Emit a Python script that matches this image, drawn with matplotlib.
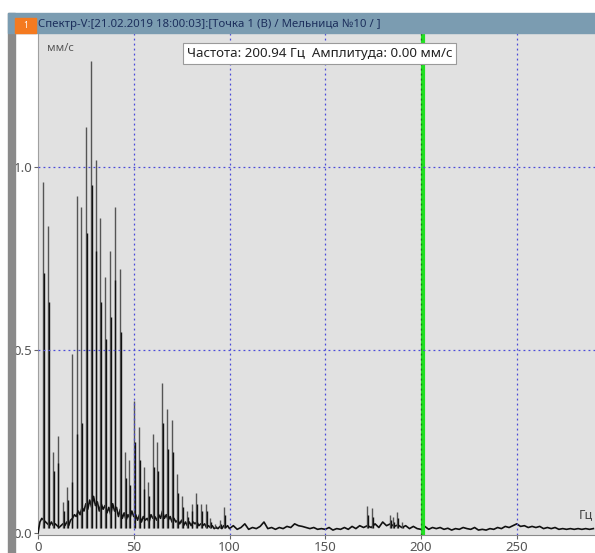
import numpy as np
import matplotlib
matplotlib.use("Agg")
import matplotlib.pyplot as plt
from matplotlib.patches import Rectangle

plt.rcParams['font.family'] = ['Noto Sans', 'DejaVu Sans']

title = "Спектр-V:[21.02.2019 18:00:03]:[Точка 1 (В) / Мельница №10 / ]"
cursor_text = "Частота: 200.94 Гц  Амплитуда: 0.00 мм/с"
cursor_hz = 200.94

# harmonic peaks: frequency, top value, inner (darker) value
peak_hz = [2.6, 5.2, 7.9, 10.2, 13.0, 15.3, 17.6, 20.2, 22.7, 25.1, 27.7, 30.1,
           32.4, 35.0, 37.6, 40.0, 42.8, 45.4, 47.5, 50.0, 52.7, 55.2, 57.5,
           60.0, 62.2, 64.8, 67.4, 70.0, 72.6, 75.2, 77.8, 80.2, 82.5, 85.0,
           87.6, 90.0, 92.5, 95.0, 97.3, 171.8, 174.4, 183.8, 185.5, 187.5, 190.0]
peak_top = [0.96, 0.84, 0.22, 0.265, 0.085, 0.125, 0.49, 0.92, 0.89, 1.11, 1.29, 1.02,
            0.86, 0.70, 0.77, 0.89, 0.72, 0.22, 0.20, 0.36, 0.29, 0.18, 0.14,
            0.27, 0.25, 0.41, 0.34, 0.31, 0.16, 0.10, 0.06, 0.08, 0.11, 0.08,
            0.08, 0.04, 0.025, 0.035, 0.07, 0.074, 0.068, 0.05, 0.045, 0.057, 0.03]
peak_inner = [0.71, 0.63, 0.17, 0.19, 0.06, 0.09, 0.14, 0.27, 0.30, 0.82, 0.95, 0.77,
              0.63, 0.53, 0.59, 0.69, 0.55, 0.15, 0.13, 0.25, 0.20, 0.12, 0.10,
              0.18, 0.17, 0.30, 0.23, 0.22, 0.11, 0.07, 0.045, 0.06, 0.08, 0.06,
              0.06, 0.03, 0.02, 0.025, 0.05, 0.05, 0.045, 0.035, 0.03, 0.04, 0.02]

# noise floor, 0..99 Hz every 1 Hz
floor_lo = [0.0, 0.03, 0.04, 0.035, 0.03, 0.025, 0.02, 0.03, 0.02, 0.025,
            0.02, 0.015, 0.02, 0.025, 0.02, 0.03, 0.02, 0.035, 0.04, 0.05,
            0.045, 0.06, 0.05, 0.07, 0.06, 0.08, 0.065, 0.09, 0.07, 0.1,
            0.075, 0.085, 0.06, 0.08, 0.065, 0.075, 0.055, 0.07, 0.05, 0.08,
            0.06, 0.07, 0.045, 0.065, 0.04, 0.055, 0.035, 0.05, 0.04, 0.06,
            0.045, 0.05, 0.035, 0.05, 0.03, 0.045, 0.035, 0.04, 0.03, 0.05,
            0.04, 0.045, 0.035, 0.05, 0.04, 0.06, 0.04, 0.05, 0.035, 0.045,
            0.03, 0.04, 0.03, 0.035, 0.025, 0.035, 0.02, 0.03, 0.02, 0.03,
            0.02, 0.03, 0.025, 0.03, 0.02, 0.025, 0.02, 0.025, 0.015, 0.02,
            0.015, 0.02, 0.012, 0.015, 0.012, 0.018, 0.012, 0.02, 0.015, 0.02]
# noise floor, 100..290 Hz every 2 Hz
floor_hi = [0.012, 0.02, 0.01, 0.015, 0.025, 0.01, 0.015, 0.012, 0.018, 0.03,
            0.012, 0.015, 0.01, 0.015, 0.012, 0.018, 0.015, 0.025, 0.02, 0.018,
            0.015, 0.012, 0.015, 0.01, 0.012, 0.01, 0.015, 0.008, 0.012, 0.01,
            0.015, 0.01, 0.018, 0.012, 0.02, 0.015, 0.02, 0.015, 0.025, 0.015,
            0.03, 0.02, 0.025, 0.018, 0.022, 0.015, 0.02, 0.012, 0.018, 0.012,
            0.01, 0.018, 0.01, 0.015, 0.012, 0.015, 0.01, 0.013, 0.008, 0.012,
            0.01, 0.015, 0.012, 0.01, 0.015, 0.008, 0.01, 0.008, 0.012, 0.01,
            0.015, 0.012, 0.018, 0.015, 0.02, 0.025, 0.018, 0.02, 0.015, 0.018,
            0.015, 0.018, 0.012, 0.015, 0.012, 0.015, 0.01, 0.012, 0.01, 0.012,
            0.01, 0.012, 0.01, 0.012, 0.01, 0.012]

floor_hz = list(np.arange(0, 100, 1.0)) + list(np.arange(100, 292, 2.0))
floor_amp = floor_lo + floor_hi

W, H = 595, 553
fig = plt.figure(figsize=(W / 100, H / 100), dpi=100)
fig.patch.set_facecolor("white")

# window frame
fig.patches.append(Rectangle((8 / W, 0), 7 / W, 1 - 13 / H, transform=fig.transFigure,
                             color="#8a8a8a", zorder=0))
fig.patches.append(Rectangle((8 / W, 1 - 33 / H), 1, 20 / H, transform=fig.transFigure,
                             color="#7b9cb1", zorder=0))
fig.patches.append(Rectangle((15 / W, 1 - 33 / H), 21 / W, 15 / H, transform=fig.transFigure,
                             color="#f47a20", zorder=1))
fig.text(25.5 / W, 1 - 25.5 / H, "1", color="white", fontsize=6, ha="center", va="center")
fig.text(38 / W, 1 - 24.5 / H, title, color="#1c2f5c", fontsize=8.2, ha="left", va="center")

ax = fig.add_axes([38 / W, 18 / H, (W - 38) / W, (535 - 33) / H])
ax.set_facecolor("#e1e1e1")
ax.set_xlim(0, (W - 38) / 1.915)
ax.set_ylim(-2 / 366, 500 / 366)

ax.plot(floor_hz, floor_amp, color="#111111", lw=1.2, zorder=3)
ax.vlines(peak_hz, 0.015, peak_top, color="#555555", lw=1.0, zorder=3)
ax.vlines(np.array(peak_hz) + 0.4, 0.015, peak_inner, color="#111111", lw=1.0, zorder=3)

ax.axvline(cursor_hz, color="#22e022", lw=3, zorder=4)

for xv in [50, 100, 150, 250]:
    ax.axvline(xv, color="#4a4ad8", lw=0.9, ls=(0, (1.5, 2.5)), zorder=5)
ax.axvline(200, color="#1a7a1a", lw=0.9, ls=(0, (1.5, 2.5)), zorder=5)
for yv in [0.5, 1.0]:
    ax.axhline(yv, color="#4a4ad8", lw=0.9, ls=(0, (1.5, 2.5)), zorder=5)

ax.set_xticks([0, 50, 100, 150, 200, 250])
ax.set_yticks([0.0, 0.5, 1.0])
ax.set_yticklabels(["0.0", "0.5", "1.0"])
ax.tick_params(axis="both", colors="#666666", labelcolor="#555555", labelsize=9.5,
               length=3, width=0.8, pad=1)
for side in ["top", "right"]:
    ax.spines[side].set_visible(False)
ax.spines["left"].set_color("#a0a0a0")
ax.spines["bottom"].set_color("#8a8a8a")

ax.text(0.017, 0.97, "мм/с", transform=ax.transAxes, fontsize=8,
        color="#555555", ha="left", va="center")
ax.text(0.997, 0.04, "Гц", transform=ax.transAxes, fontsize=9,
        color="#444444", ha="right", va="center")

ax.text(cursor_hz - 54, 500 / 366 - 20 / 366, cursor_text, fontsize=9.6, color="#222222",
        ha="center", va="center", zorder=6,
        bbox=dict(boxstyle="square,pad=0.3", fc="white", ec="#9a9a9a", lw=0.8))

fig.savefig("out.png", dpi=100)
